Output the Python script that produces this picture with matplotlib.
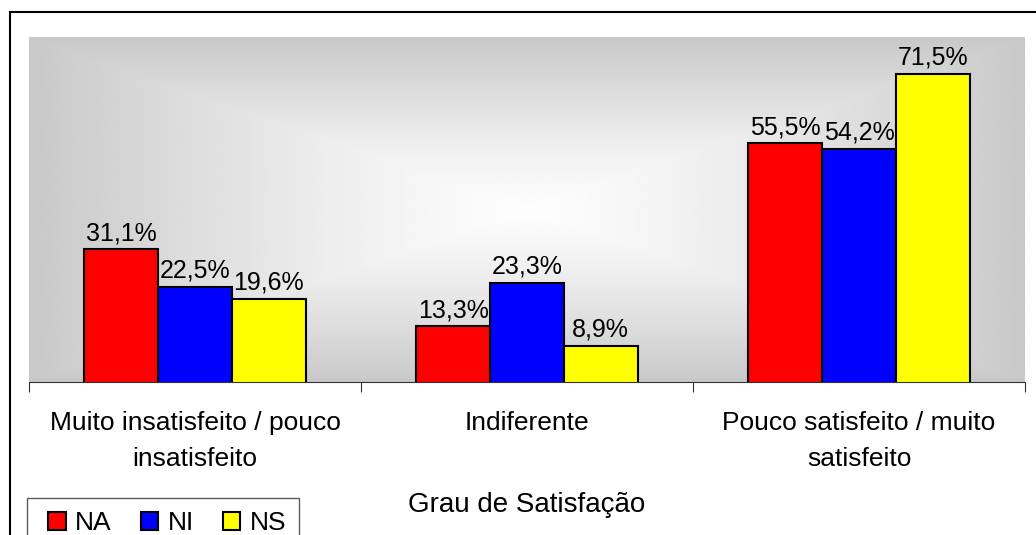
import numpy as np
import matplotlib.pyplot as plt
from matplotlib.patches import Patch, Rectangle
from matplotlib.lines import Line2D
from matplotlib.legend_handler import HandlerPatch

plt.rcParams['font.family'] = ['Liberation Sans', 'DejaVu Sans']

categorias = ['Muito insatisfeito / pouco\ninsatisfeito', 'Indiferente',
              'Pouco satisfeito / muito\nsatisfeito']
series = ['NA', 'NI', 'NS']
na = [31.1, 13.3, 55.5]
ni = [22.5, 23.3, 54.2]
ns = [19.6, 8.9, 71.5]
cores = ['#ff0000', '#0000ff', '#ffff00']

W, H = 1036, 535
fig = plt.figure(figsize=(W / 100, H / 100), dpi=100)
ax = fig.add_axes([29 / W, 1 - 382 / H, (1025 - 29) / W, (382 - 37) / H])

# rectangular "from centre" gradient background
gx = np.linspace(-1, 1, 400)
gy = np.linspace(-1, 1, 200)
X, Y = np.meshgrid(gx, gy)
t = np.maximum(np.abs(X), np.abs(Y))
t = t ** 1.3
val = 0.99 * (1 - t) + 0.785 * t
ax.imshow(val, cmap='gray', vmin=0, vmax=1, aspect='auto',
          extent=[-0.5, 2.5, 0.5, 80], zorder=0, interpolation='bilinear')

x = np.arange(len(categorias))
w = 0.222
for i, (vals, c) in enumerate(zip([na, ni, ns], cores)):
    pos = x + (i - 1) * w
    ax.bar(pos, vals, w, color=c, edgecolor='black', linewidth=1.5, zorder=2)
    for p, v in zip(pos, vals):
        ax.annotate(f'{v:.1f}%'.replace('.', ','), (p, v), xytext=(0, 3),
                    textcoords='offset points', ha='center', va='bottom',
                    fontsize=18, zorder=3)

ax.set_xlim(-0.5, 2.5)
ax.set_ylim(0.5, 80)
ax.set_yticks([])
for s in ['left', 'right', 'top']:
    ax.spines[s].set_visible(False)
ax.spines['bottom'].set_color('#333333')
ax.set_xticks([-0.5, 0.5, 1.5, 2.5])
ax.set_xticklabels([])
ax.tick_params(axis='x', length=7, color='#333333', direction='out')
ax.set_xticks(x, minor=True)
ax.set_xticklabels(categorias, minor=True, fontsize=19, linespacing=1.6)
ax.tick_params(axis='x', which='minor', length=0, pad=21)

fig.text(527 / W, 1 - 505 / H, 'Grau de Satisfação', ha='center',
         va='center', fontsize=20)


def quadrado(legend, orig_handle, xdescent, ydescent, width, height, fontsize):
    # square drawn at the right end of the handle box
    return Rectangle((-xdescent + width - height, -ydescent), height, height)


handles = [Patch(facecolor=c, edgecolor='black', linewidth=1.5) for c in cores]
leg = fig.legend(handles, series, loc='upper left',
                 bbox_to_anchor=(27 / W, 1 - 498 / H), ncol=3, fontsize=19,
                 frameon=True, fancybox=False, handlelength=0.98,
                 handleheight=0.65, handletextpad=0.35, columnspacing=0.78,
                 borderpad=0.5, borderaxespad=0,
                 handler_map={Patch: HandlerPatch(patch_func=quadrado)})
leg.get_frame().set_edgecolor('#333333')
leg.get_frame().set_linewidth(1)

fig.add_artist(Line2D([10 / W, 10 / W], [0, 1 - 12 / H], color='black',
                      linewidth=1.5, transform=fig.transFigure))
fig.add_artist(Line2D([10 / W, 1], [1 - 12 / H, 1 - 12 / H], color='black',
                      linewidth=1.5, transform=fig.transFigure))

fig.savefig('out.png', dpi=100)
